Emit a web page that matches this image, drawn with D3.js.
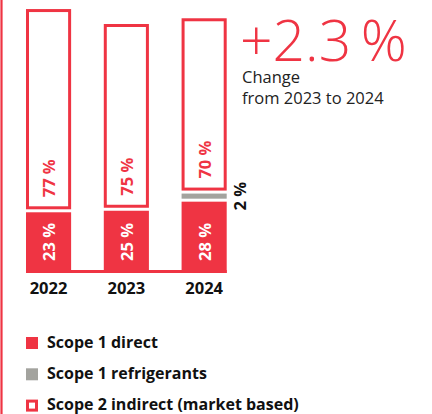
<!DOCTYPE html>
<html>
<head>
<meta charset="utf-8">
<script src="https://cdn.jsdelivr.net/npm/d3@7"></script>
<style>
  html, body { margin: 0; padding: 0; background: #fff; }
  svg { display: block; }
</style>
</head>
<body>
<script>
// Greenhouse gas emissions by scope, share of yearly total
const years = ["2022", "2023", "2024"];
const totalIndex = [106.0, 100.0, 102.3];        // total emissions, 2023 = 100
const scope1Direct = [23, 25, 28];               // % of total
const scope1Refrigerants = [0, 0, 2];            // % of total
const scope2Indirect = [77, 75, 70];             // % of total (market based)
const changeValue = "+2.3\u2009%";
const changeText = ["Change", "from 2023 to 2024"];
const legendLabels = ["Scope 1 direct", "Scope 1 refrigerants", "Scope 2 indirect (market based)"];

const W = 432, H = 414;
const RED = "#ef3443", GREY = "#a3a39e", INK = "#111";
const FONT = "'Open Sans', 'DejaVu Sans', sans-serif";

const svg = d3.select("body").append("svg")
  .attr("width", W).attr("height", H)
  .style("font-family", FONT);

// vertical accent rule on the left edge
svg.append("line")
  .attr("x1", 1.5).attr("x2", 1.5).attr("y1", 0).attr("y2", H)
  .attr("stroke", RED).attr("stroke-width", 2.2);

const x = d3.scaleBand().domain(years).range([26, 226.7]).paddingInner(0.42).paddingOuter(0);
const y = d3.scaleLinear().domain([0, 100]).range([273, 24]);
const GAP = 3;

const seriesKeys = ["direct", "refrigerants", "indirect"];
const seriesVals = { direct: scope1Direct, refrigerants: scope1Refrigerants, indirect: scope2Indirect };

// build stacked segments per year; lower segments keep their height, gaps shorten the top one
const bars = years.map((yr, i) => {
  let cum = 0;
  const present = seriesKeys.filter(s => seriesVals[s][i] > 0);
  return present.map((s, j) => {
    const pct = seriesVals[s][i];
    const c0 = totalIndex[i] * cum / 100;
    cum += pct;
    const c1 = totalIndex[i] * cum / 100;
    const last = j === present.length - 1;
    return {
      year: yr, key: s, pct,
      bottom: y(c0) - j * GAP,
      top: last ? y(c1) : y(c1) - j * GAP
    };
  });
});

const g = svg.append("g");

// baseline
g.append("rect")
  .attr("x", x.range()[0]).attr("y", 270)
  .attr("width", x.range()[1] - x.range()[0]).attr("height", 3)
  .attr("fill", RED);

const LABEL_SIZE = 16.5;

bars.forEach(segs => {
  segs.forEach(s => {
    const bx = x(s.year), bw = x.bandwidth();
    if (s.key === "indirect") {
      g.append("rect")
        .attr("x", bx + 1.5).attr("y", s.top + 1.5)
        .attr("width", bw - 3).attr("height", s.bottom - s.top - 3)
        .attr("fill", "#fff").attr("stroke", RED).attr("stroke-width", 3);
    } else {
      g.append("rect")
        .attr("x", bx).attr("y", s.top)
        .attr("width", bw).attr("height", s.bottom - s.top)
        .attr("fill", s.key === "direct" ? RED : GREY);
    }
    const cx = bx + bw / 2;
    if (s.key === "refrigerants") {
      g.append("text")
        .attr("transform", `translate(${bx + bw + 14},${(s.top + s.bottom) / 2}) rotate(-90)`)
        .attr("dy", "0.35em").attr("text-anchor", "middle")
        .attr("font-size", LABEL_SIZE).attr("font-weight", 700).attr("fill", INK)
        .text(s.pct + " %");
    } else {
      g.append("text")
        .attr("transform", `translate(${cx + 1},${s.bottom - 12}) rotate(-90)`)
        .attr("dy", "0.35em").attr("text-anchor", "start")
        .attr("font-size", LABEL_SIZE).attr("font-weight", 700)
        .attr("fill", s.key === "direct" ? "#fff" : RED)
        .text(s.pct + " %");
    }
  });
});

// year axis labels
const xAxis = d3.axisBottom(x).tickSize(0).tickPadding(0);
const ax = svg.append("g").attr("transform", "translate(0,282)").call(xAxis);
ax.select(".domain").remove();
ax.selectAll("text")
  .attr("font-family", FONT).attr("font-size", 16.5).attr("font-weight", 700)
  .attr("fill", INK).attr("dy", "0.71em");

// headline change figure
svg.append("text")
  .attr("x", 240).attr("y", 61)
  .attr("font-size", 57).attr("font-weight", 300).attr("fill", RED)
  .text(changeValue);

svg.append("g").selectAll("text").data(changeText).join("text")
  .attr("x", 242).attr("y", (d, i) => 83 + i * 21)
  .attr("font-size", 16.5).attr("fill", "#222")
  .text(d => d);

// legend
const legend = svg.append("g").attr("transform", "translate(26,337)");
const rows = legend.selectAll("g").data(legendLabels).join("g")
  .attr("transform", (d, i) => `translate(0,${i * 31.3})`);
rows.each(function (d, i) {
  const r = d3.select(this);
  if (i === 2) {
    r.append("rect").attr("x", 1.5).attr("y", 1.5).attr("width", 9).attr("height", 9)
      .attr("fill", "#fff").attr("stroke", RED).attr("stroke-width", 3);
  } else {
    r.append("rect").attr("width", 12).attr("height", 12)
      .attr("fill", i === 0 ? RED : GREY);
  }
  r.append("text").attr("x", 21).attr("y", 10.8)
    .attr("font-size", 16).attr("font-weight", 700).attr("fill", INK)
    .text(d);
});
</script>
</body>
</html>
